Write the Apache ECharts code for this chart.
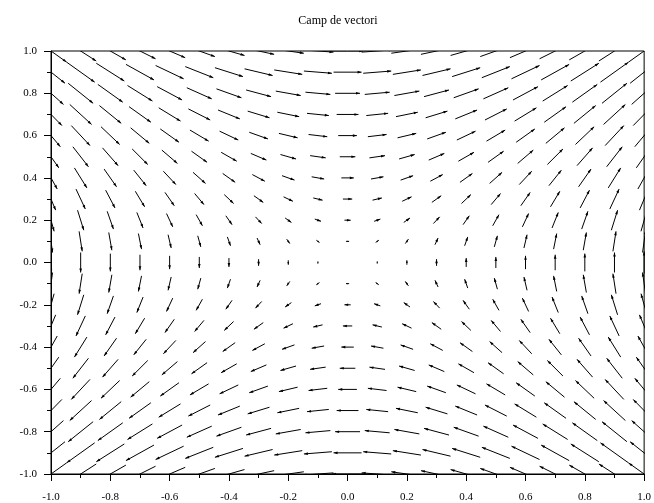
<!DOCTYPE html>
<html>
<head>
<meta charset="utf-8">
<style>
  html, body { margin: 0; padding: 0; background: #fff; }
  #main { width: 654px; height: 503px; }
</style>
<script src="https://cdn.jsdelivr.net/npm/echarts@6/dist/echarts.min.js"></script>
</head>
<body>
<div id="main"></div>
<script>
  // grid points of the field
  const xValues = [-1.0, -0.9, -0.8, -0.7, -0.6, -0.5, -0.4, -0.3, -0.2, -0.1, 0.0,
                   0.1, 0.2, 0.3, 0.4, 0.5, 0.6, 0.7, 0.8, 0.9, 1.0];
  const yValues = [-1.0, -0.9, -0.8, -0.7, -0.6, -0.5, -0.4, -0.3, -0.2, -0.1, 0.0,
                   0.1, 0.2, 0.3, 0.4, 0.5, 0.6, 0.7, 0.8, 0.9, 1.0];
  // horizontal component, constant along a row (one value per yValues entry)
  const uByRow = [-1.0, -0.9, -0.8, -0.7, -0.6, -0.5, -0.4, -0.3, -0.2, -0.1, 0.0,
                  0.1, 0.2, 0.3, 0.4, 0.5, 0.6, 0.7, 0.8, 0.9, 1.0];
  // vertical component, constant along a column (one value per xValues entry)
  const vByCol = [-1.0, -0.9, -0.8, -0.7, -0.6, -0.5, -0.4, -0.3, -0.2, -0.1, 0.0,
                  0.1, 0.2, 0.3, 0.4, 0.5, 0.6, 0.7, 0.8, 0.9, 1.0];
  const tickLabels = ['-1.0', '-0.8', '-0.6', '-0.4', '-0.2', '0.0', '0.2', '0.4', '0.6', '0.8', '1.0'];
  const titleText = 'Camp de vectori';

  const arrowScale = 0.105;

  let data = [];
  for (let j = 0; j < yValues.length; j++) {
    for (let i = 0; i < xValues.length; i++) {
      data.push([xValues[i], yValues[j], uByRow[j], vByCol[i]]);
    }
  }

  function tickFmt(v) {
    return tickLabels[Math.round((v + 1) / 0.2)];
  }

  function renderArrow(params, api) {
    const x = api.value(0), y = api.value(1), u = api.value(2), v = api.value(3);
    const p0 = api.coord([x - u * arrowScale / 2, y - v * arrowScale / 2]);
    const p1 = api.coord([x + u * arrowScale / 2, y + v * arrowScale / 2]);
    const dx = p1[0] - p0[0], dy = p1[1] - p0[1];
    const len = Math.sqrt(dx * dx + dy * dy);
    if (len < 0.5) return null;
    const ux = dx / len, uy = dy / len;
    const hl = Math.min(4, len * 0.6), hw = hl * 0.33;
    const bx = p1[0] - ux * hl, by = p1[1] - uy * hl;
    return {
      type: 'group',
      children: [
        { type: 'line', shape: { x1: p0[0], y1: p0[1], x2: p1[0], y2: p1[1] },
          style: { stroke: '#000', lineWidth: 1 } },
        { type: 'polygon',
          shape: { points: [[p1[0], p1[1]], [bx - uy * hw, by + ux * hw], [bx + uy * hw, by - ux * hw]] },
          style: { fill: '#000' } }
      ]
    };
  }

  const axisCommon = {
    type: 'value', min: -1, max: 1, interval: 0.2,
    axisLine: { show: true, onZero: false, lineStyle: { color: '#000', width: 1 } },
    axisTick: { show: true, inside: false, length: 7, lineStyle: { color: '#000' } },
    minorTick: { show: true, splitNumber: 2, length: 4, lineStyle: { color: '#000' } },
    splitLine: { show: false },
    axisLabel: { color: '#000', fontFamily: 'Liberation Serif', fontSize: 11, formatter: tickFmt, showMinLabel: true, showMaxLabel: true }
  };

  const chart = echarts.init(document.getElementById('main'));
  chart.setOption({
    animation: false,
    backgroundColor: '#fff',
    title: {
      text: titleText, left: 333, top: 10, textAlign: 'center',
      textStyle: { fontFamily: 'Liberation Serif', fontSize: 12, fontWeight: 'normal', color: '#000' }
    },
    grid: { left: 51, right: 3, top: 51, bottom: 29, show: true, borderColor: '#000', borderWidth: 1 },
    xAxis: Object.assign({}, axisCommon, {
      axisLabel: Object.assign({}, axisCommon.axisLabel, { margin: 18 })
    }),
    yAxis: Object.assign({}, axisCommon, {
      axisLabel: Object.assign({}, axisCommon.axisLabel, { margin: 14 })
    }),
    series: [{
      type: 'custom',
      renderItem: renderArrow,
      clip: true,
      data: data
    }]
  });
</script>
</body>
</html>
